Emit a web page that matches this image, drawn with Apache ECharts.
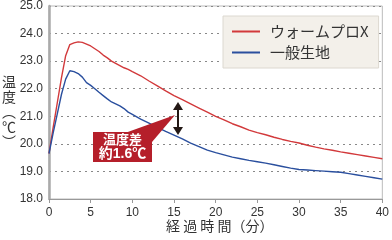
<!DOCTYPE html>
<html><head><meta charset="utf-8">
<script src="https://cdn.jsdelivr.net/npm/echarts@6/dist/echarts.min.js"></script>
<style>html,body{margin:0;padding:0;background:#fff}#c{width:392px;height:240px}</style>
</head><body><div id="c"></div>
<script>
const minutes = [0,0.5,1,1.5,2,2.5,3,3.5,4,4.5,5,5.5,6,6.5,7,7.5,8,8.5,9,9.5,10,11,12,13,14,15,16,17,18,19,20,21,22,23,24,25,26,27,28,29,30,31,32,33,34,35,36,37,38,39,40];
const warmProX = [19.65,20.6,21.5,22.4,23.2,23.6,23.66,23.7,23.68,23.62,23.55,23.45,23.35,23.22,23.12,23.0,22.92,22.84,22.76,22.7,22.62,22.47,22.28,22.1,21.92,21.75,21.6,21.45,21.3,21.15,21.0,20.87,20.73,20.62,20.5,20.41,20.33,20.24,20.16,20.09,20.03,19.95,19.88,19.82,19.77,19.71,19.66,19.61,19.56,19.51,19.46];
const normalFabric = [19.65,20.4,21.1,21.8,22.35,22.65,22.62,22.55,22.42,22.22,22.12,22.0,21.87,21.75,21.63,21.52,21.45,21.38,21.28,21.15,21.07,20.9,20.75,20.6,20.45,20.32,20.18,20.03,19.9,19.77,19.68,19.6,19.52,19.46,19.4,19.35,19.3,19.24,19.18,19.12,19.07,19.05,19.03,19.01,18.99,18.97,18.92,18.87,18.82,18.77,18.72];
const seriesNames = ['ウォームプロX','一般生地'];
const xTicks = [0,5,10,15,20,25,30,35,40];
const yTicks = [18,19,20,21,22,23,24,25];

const chart = echarts.init(document.getElementById('c'));
const numFont = '"Liberation Sans Narrow","Liberation Sans",Arial,sans-serif';
const jpFont = '"Noto Sans CJK JP",sans-serif';
chart.setOption({
  animation:false,
  grid:{left:49,right:7,top:6,bottom:41,show:true,borderColor:'#bbb',borderWidth:1,backgroundColor:'#fff'},
  legend:{
    orient:'vertical',left:223,top:16,
    backgroundColor:'#f3f0ea',borderColor:'#dcd8d0',borderWidth:1,
    padding:[8,10,8,9],itemWidth:28,itemHeight:2,itemGap:6,icon:'rect',
    textStyle:{fontFamily:jpFont,fontSize:15,color:'#333',padding:[0,0,0,5]},
    data:seriesNames
  },
  xAxis:{
    type:'value',min:xTicks[0],max:xTicks[xTicks.length-1],interval:5,
    axisLine:{lineStyle:{color:'#999',width:1}},
    axisTick:{show:true,length:4,lineStyle:{color:'#999'}},
    splitLine:{show:false},
    axisLabel:{fontFamily:numFont,fontSize:12,color:'#333',margin:8}
  },
  yAxis:{
    type:'value',min:yTicks[0],max:yTicks[yTicks.length-1],interval:1,
    axisLine:{show:true,lineStyle:{color:'#aaa',width:2.5}},
    axisTick:{show:false},
    splitLine:{show:true,lineStyle:{color:'#888',type:[2,4],width:1}},
    axisLabel:{fontFamily:numFont,fontSize:12,color:'#333',margin:6,formatter:v=>v.toFixed(1)}
  },
  series:[
    {name:seriesNames[0],type:'line',showSymbol:false,smooth:false,color:'#d2393b',
     lineStyle:{width:1.4,color:'#d2393b'},data:minutes.map((t,i)=>[t,warmProX[i]])},
    {name:seriesNames[1],type:'line',showSymbol:false,smooth:false,color:'#2a4f9e',
     lineStyle:{width:1.4,color:'#2a4f9e'},data:minutes.map((t,i)=>[t,normalFabric[i]])}
  ],
  graphic:[
    {type:'text',left:2,top:74,style:{text:'温\n度\n︵\n℃\n︶',fontFamily:jpFont,fontSize:14,lineHeight:15,fill:'#333',align:'center'}},
    {type:'text',left:166,top:219,style:{text:'経 過 時 間（分）',fontFamily:jpFont,fontSize:14,fill:'#333'}},
    {type:'polygon',shape:{points:[[125,133],[175,115],[152,142]]},style:{fill:'#b51f2a'},z:10},
    {type:'rect',shape:{x:93,y:132,width:59,height:30},style:{fill:'#b51f2a'},z:10},
    {type:'text',x:122.5,y:132,style:{
      text:'{a|温度差}\n{b|約1.6℃}',align:'center',
      rich:{
        a:{fontFamily:jpFont,fontSize:13,fontWeight:'bold',lineHeight:15,fill:'#fff',color:'#fff'},
        b:{fontFamily:'"Liberation Sans","Noto Sans CJK JP",sans-serif',fontSize:14,fontWeight:'bold',lineHeight:15,fill:'#fff',color:'#fff'}
      }},z:11},
    {type:'line',shape:{x1:178,y1:108,x2:178,y2:130},style:{stroke:'#231815',lineWidth:2},z:10},
    {type:'polygon',shape:{points:[[178,102],[173,110],[183,110]]},style:{fill:'#231815'},z:10},
    {type:'polygon',shape:{points:[[178,135],[173,127],[183,127]]},style:{fill:'#231815'},z:10}
  ]
});
</script></body></html>
